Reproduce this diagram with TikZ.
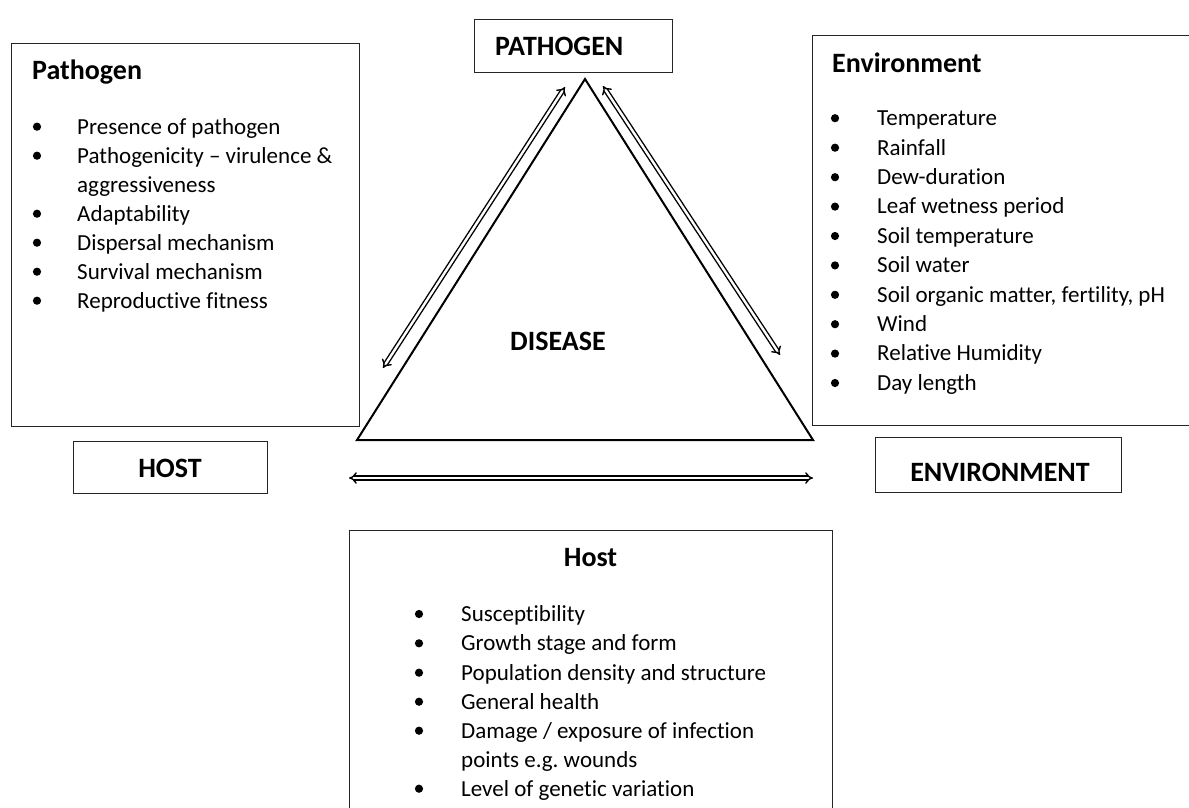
\documentclass[tikz,border=0pt]{standalone}
\usepackage{fontspec}
\setmainfont{Carlito}[Ligatures=NoCommon]
\usetikzlibrary{arrows.meta}
\frenchspacing
\begin{document}
\begin{tikzpicture}[x=1pt,y=-1pt,
  frame/.style={draw=black!85, line width=1.3pt, inner sep=0pt},
  label/.style={font=\fontsize{28}{32}\selectfont\bfseries, inner sep=0pt},
  title/.style={font=\fontsize{28}{32}\selectfont\bfseries, inner sep=0pt, anchor=base west},
  entry/.style={font=\fontsize{23}{29}\selectfont, inner sep=0pt, anchor=base west},
  dot/.style={circle, fill=black, inner sep=0pt, minimum size=8.2pt},
  link/.style={draw, line width=1.4pt, double, double distance=2.4pt,
               {Implies[scale=1.15]}-{Implies[scale=1.15]}}
]
\useasboundingbox (0,0) rectangle (1189,807);
\clip (0,0) rectangle (1189,807);

% information boxes
\node[frame, minimum width=348pt, minimum height=383pt, anchor=north west] (pbox) at (11,43) {};
\node[frame, minimum width=400pt, minimum height=390pt, anchor=north west] (ebox) at (812,35) {};
\node[frame, minimum width=483pt, minimum height=320pt, anchor=north west] (hbox) at (349,530) {};

% corner labels
\node[frame, minimum width=198pt, minimum height=53pt, anchor=north west] (pathogen) at (474,19) {};
\node[label, anchor=base west] (pathogenlbl) at (495,55) {PATHOGEN};
\node[frame, minimum width=194pt, minimum height=52pt, anchor=north west] (host) at (73,441) {};
\node[label, anchor=base] (hostlbl) at (170,477) {HOST};
\node[frame, minimum width=246pt, minimum height=55pt, anchor=north west] (environment) at (875,437) {};
\node[label, anchor=base] (envlbl) at (1000,481) {ENVIRONMENT};

% disease triangle
\coordinate (apex) at (585,79);
\coordinate (bl) at (357,440);
\coordinate (br) at (813,440);
\draw[line width=2pt, line join=miter] (apex) -- (bl) -- (br) -- cycle;
\node[label, anchor=base] (disease) at (558,350) {DISEASE};

% interaction arrows
\coordinate (a1) at (383,368);
\coordinate (a2) at (565,87);
\coordinate (b1) at (603,86);
\coordinate (b2) at (780,355);
\coordinate (c1) at (349,478);
\coordinate (c2) at (813,478);
\draw[link] (a1) -- (a2);
\draw[link] (b1) -- (b2);
\draw[link] (c1) -- (c2);

% pathogen factors
\node[title] (ptitle) at (32,79) {Pathogen};
\foreach \y/\t/\b in {134/{Presence of pathogen}/1,
                      163/{Pathogenicity – virulence \&}/1,
                      192/{aggressiveness}/0,
                      221/{Adaptability}/1,
                      250/{Dispersal mechanism}/1,
                      279/{Survival mechanism}/1,
                      308/{Reproductive fitness}/1}{
  \node[entry] (p\y) at (77,\y) {\t};
  \ifnum\b=1 \node[dot] (pd\y) at (37,\y-7.3) {};\fi
}

% environment factors
\node[title] (etitle) at (832,72) {Environment};
\foreach \y/\t in {125.5/{Temperature},
                   155/{Rainfall},
                   184.5/{Dew-duration},
                   213.9/{Leaf wetness period},
                   243.3/{Soil temperature},
                   272.7/{Soil water},
                   302.1/{Soil organic matter, fertility, pH},
                   331.5/{Wind},
                   360.9/{Relative Humidity},
                   390.3/{Day length}}{
  \node[entry] (e\y) at (877,\y) {\t};
  \node[dot] (ed\y) at (835,\y-7.3) {};
}

% host factors
\node[label, anchor=base] (htitle) at (590.5,566) {Host};
\foreach \y/\t/\b in {621.3/{Susceptibility}/1,
                      650.6/{Growth stage and form}/1,
                      680/{Population density and structure}/1,
                      709/{General health}/1,
                      738/{Damage / exposure of infection}/1,
                      767/{points e.g. wounds}/0,
                      796/{Level of genetic variation}/1}{
  \node[entry] (h\y) at (461,\y) {\t};
  \ifnum\b=1 \node[dot] (hd\y) at (419,\y-7.3) {};\fi
}
\end{tikzpicture}
\end{document}
